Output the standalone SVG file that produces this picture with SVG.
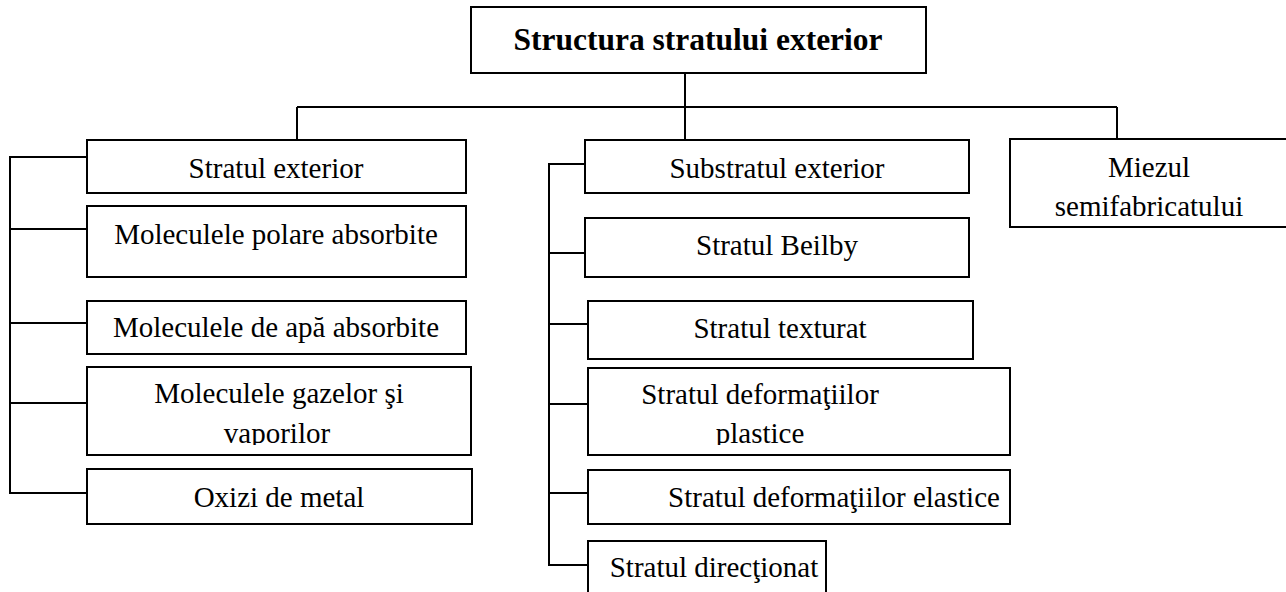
<svg xmlns="http://www.w3.org/2000/svg" width="1286" height="592" viewBox="0 0 1286 592">
<style>
.box{fill:#fff;stroke:#000;stroke-width:2}
.ln{fill:none;stroke:#000;stroke-width:2}
text{font-family:"Liberation Serif","Times New Roman",serif;font-size:29px;fill:#000;text-anchor:middle}
.title{font-weight:bold;font-size:31.5px}
</style>
<defs>
<clipPath id="c1"><rect x="87" y="367" width="384" height="78"/></clipPath>
<clipPath id="c2"><rect x="588" y="368" width="422" height="77"/></clipPath>
</defs>
<g id="connectors">
<path class="ln" d="M685 73V107M297 107H1117M297 107V140M685 107V140M1117 107V139"/>
<path class="ln" d="M87 157H10V493H87M10 229H87M10 323H87M10 403H87"/>
<path class="ln" d="M585 164H549V565H588M549 253H585M549 324H588M549 404H588M549 493H588"/>
</g>
<g id="root"><rect class="box" x="471" y="7" width="455" height="66"/><text class="title" x="698" y="50">Structura stratului exterior</text></g>
<g id="n1"><rect class="box" x="87" y="140" width="379" height="53"/><text x="276" y="178">Stratul exterior</text></g>
<g id="n2"><rect class="box" x="87" y="206" width="379" height="71"/><text x="276" y="244">Moleculele polare absorbite</text></g>
<g id="n3"><rect class="box" x="87" y="301" width="379" height="53"/><text x="276" y="337">Moleculele de apă absorbite</text></g>
<g id="n4"><rect class="box" x="87" y="367" width="384" height="88"/><g clip-path="url(#c1)"><text x="279" y="403">Moleculele gazelor şi</text><text x="277" y="443">vaporilor</text></g></g>
<g id="n5"><rect class="box" x="87" y="469" width="385" height="55"/><text x="279" y="507">Oxizi de metal</text></g>
<g id="s1"><rect class="box" x="585" y="140" width="384" height="53"/><text x="777" y="178">Substratul exterior</text></g>
<g id="s2"><rect class="box" x="585" y="218" width="384" height="59"/><text x="777" y="255">Stratul Beilby</text></g>
<g id="s3"><rect class="box" x="588" y="301" width="385" height="58"/><text x="780" y="338">Stratul texturat</text></g>
<g id="s4"><rect class="box" x="588" y="368" width="422" height="87"/><g clip-path="url(#c2)"><text x="760" y="404">Stratul deformaţiilor</text><text x="760" y="443">plastice</text></g></g>
<g id="s5"><rect class="box" x="588" y="470" width="422" height="54"/><text x="834" y="507">Stratul deformaţiilor elastice</text></g>
<g id="s6"><rect class="box" x="588" y="541" width="238" height="60"/><text x="714" y="577">Stratul direcţionat</text></g>
<g id="m1"><rect class="box" x="1010" y="139" width="290" height="88"/><text x="1149" y="177">Miezul</text><text x="1149" y="216">semifabricatului</text></g>
</svg>
